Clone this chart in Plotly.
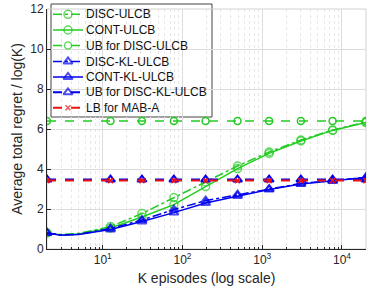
import plotly.graph_objects as go

# Data
K = [2, 3, 5, 12.5, 31, 78, 195, 490, 1220, 3050, 7630, 20000]
show_marker = [1, 0, 0, 1, 1, 1, 1, 1, 1, 1, 1, 1]
K_ub = [2, 12.5, 31, 78, 195, 490, 1220, 3050, 7630, 20000]

disc_ulcb = [0.80, 0.72, 0.78, 1.12, 1.77, 2.57, 3.35, 4.15, 4.85, 5.45, 5.95, 6.35]
cont_ulcb = [0.80, 0.70, 0.75, 1.05, 1.60, 2.22, 3.12, 4.02, 4.78, 5.40, 5.93, 6.32]
disc_kl = [0.80, 0.70, 0.74, 1.02, 1.45, 1.97, 2.42, 2.72, 3.00, 3.28, 3.42, 3.58]
cont_kl = [0.80, 0.69, 0.73, 0.98, 1.38, 1.82, 2.30, 2.65, 2.97, 3.25, 3.40, 3.57]
ub_disc_ulcb = [6.4] * len(K_ub)
ub_disc_kl = [3.47] * len(K_ub)
lb_maba = [3.42] * len(K_ub)

series_names = ["DISC-ULCB", "CONT-ULCB", "UB for DISC-ULCB", "DISC-KL-ULCB",
                "CONT-KL-ULCB", "UB for DISC-KL-ULCB", "LB for MAB-A"]
x_tickvals = [10, 100, 1000, 10000]
x_ticktext = ["10<sup>1</sup>", "10<sup>2</sup>", "10<sup>3</sup>", "10<sup>4</sup>"]

GREEN = "#22cc22"
BLUE = "#0000ee"
RED = "#ee1111"
FONT = "Liberation Sans, Arial, sans-serif"

def msizes(s):
    return [s if m else 0 for m in show_marker]

styles = [
    dict(line=dict(color=GREEN, width=1.5, dash="dashdot"), sym="circle-open", size=8, mlw=1.5, col=GREEN),
    dict(line=dict(color=GREEN, width=1.5), sym="circle-open", size=8, mlw=1.5, col=GREEN),
    dict(line=dict(color=GREEN, width=1.5, dash="dash"), sym="circle-open", size=7, mlw=1.5, col=GREEN),
    dict(line=dict(color=BLUE, width=1.5, dash="dashdot"), sym="triangle-up-open", size=8, mlw=2, col=BLUE),
    dict(line=dict(color=BLUE, width=1.5), sym="triangle-up-open", size=8, mlw=2, col=BLUE),
    dict(line=dict(color=BLUE, width=2, dash="dash"), sym="triangle-up-open", size=8, mlw=2, col=BLUE),
    dict(line=dict(color=RED, width=2, dash="dash"), sym="x-thin-open", size=5, mlw=1.5, col=RED),
]
xs = [K, K, K_ub, K, K, K_ub, K_ub]
ys = [disc_ulcb, cont_ulcb, ub_disc_ulcb, disc_kl, cont_kl, ub_disc_kl, lb_maba]

fig = go.Figure()
for name, st, x, y in zip(series_names, styles, xs, ys):
    size = msizes(st["size"]) if len(x) == len(K) else st["size"]
    fig.add_trace(go.Scatter(
        x=x, y=y, name=name, mode="lines+markers", showlegend=False,
        line=st["line"],
        marker=dict(symbol=st["sym"], size=size, color=st["col"],
                    line=dict(width=st["mlw"], color=st["col"]))))

# Manual legend drawn on an overlay axis spanning the plot area (0..1)
PL, PR, PT, PB = 47, 366, 9, 249
def px(X):
    return (X - PL) / (PR - PL)
def py(Y):
    return (PB - Y) / (PB - PT)

leg_y = [14.3, 30, 45.5, 61.5, 77, 92.3, 107.8]
for name, st, yy in zip(series_names, styles, leg_y):
    fig.add_trace(go.Scatter(
        x=[px(53), px(68), px(83)], y=[py(yy)] * 3, xaxis="x2", yaxis="y2",
        mode="lines+markers", showlegend=False, cliponaxis=False, hoverinfo="skip",
        line=st["line"],
        marker=dict(symbol=st["sym"], size=[0, st["size"], 0], color=st["col"],
                    line=dict(width=st["mlw"], color=st["col"]))))
    fig.add_annotation(x=px(84), y=py(yy), xref="paper", yref="paper",
                       text=name, showarrow=False, xanchor="left", yanchor="middle",
                       font=dict(family=FONT, size=12, color="#111111"))

fig.add_shape(type="rect", xref="paper", yref="paper",
              x0=px(51), x1=px(212), y0=py(117), y1=py(4),
              line=dict(color="#444444", width=1), fillcolor="white", layer="between")

fig.update_layout(
    width=374, height=296,
    margin=dict(l=PL, r=374 - PR, t=PT, b=296 - PB),
    paper_bgcolor="white", plot_bgcolor="white",
    font=dict(family=FONT, size=12, color="#262626"),
    showlegend=False,
    xaxis=dict(
        type="log", range=[0.30103, 4.30103], automargin=False,
        tickvals=x_tickvals, ticktext=x_ticktext,
        ticks="inside", ticklen=4, tickcolor="#262626",
        showline=True, linecolor="#262626", linewidth=1, mirror=False,
        showgrid=True, gridcolor="#dcdcdc", gridwidth=1,
        minor=dict(dtick="D1", showgrid=True, gridcolor="#e6e6e6", griddash="dot",
                   ticks="inside", ticklen=2, tickcolor="#262626"),
        title=dict(text="K episodes (log scale)", font=dict(size=14), standoff=6),
        zeroline=False,
    ),
    yaxis=dict(
        range=[0, 12], dtick=2, automargin=False,
        ticks="inside", ticklen=4, tickcolor="#262626",
        showline=True, linecolor="#262626", linewidth=1,
        showgrid=True, gridcolor="#dcdcdc", gridwidth=1,
        title=dict(text="Average total regret / log(K)", font=dict(size=14), standoff=4),
        zeroline=False,
    ),
    xaxis2=dict(overlaying="x", range=[0, 1], visible=False, anchor="y2"),
    yaxis2=dict(overlaying="y", range=[0, 1], visible=False, anchor="x2"),
)
# light top/right frame
fig.add_shape(type="rect", xref="paper", yref="paper", x0=0, y0=0, x1=1, y1=1,
              line=dict(color="#d0d0d0", width=1), layer="below")

fig.write_html("out.html", config={"displayModeBar": False},
               post_script="document.body.style.margin='0';")
